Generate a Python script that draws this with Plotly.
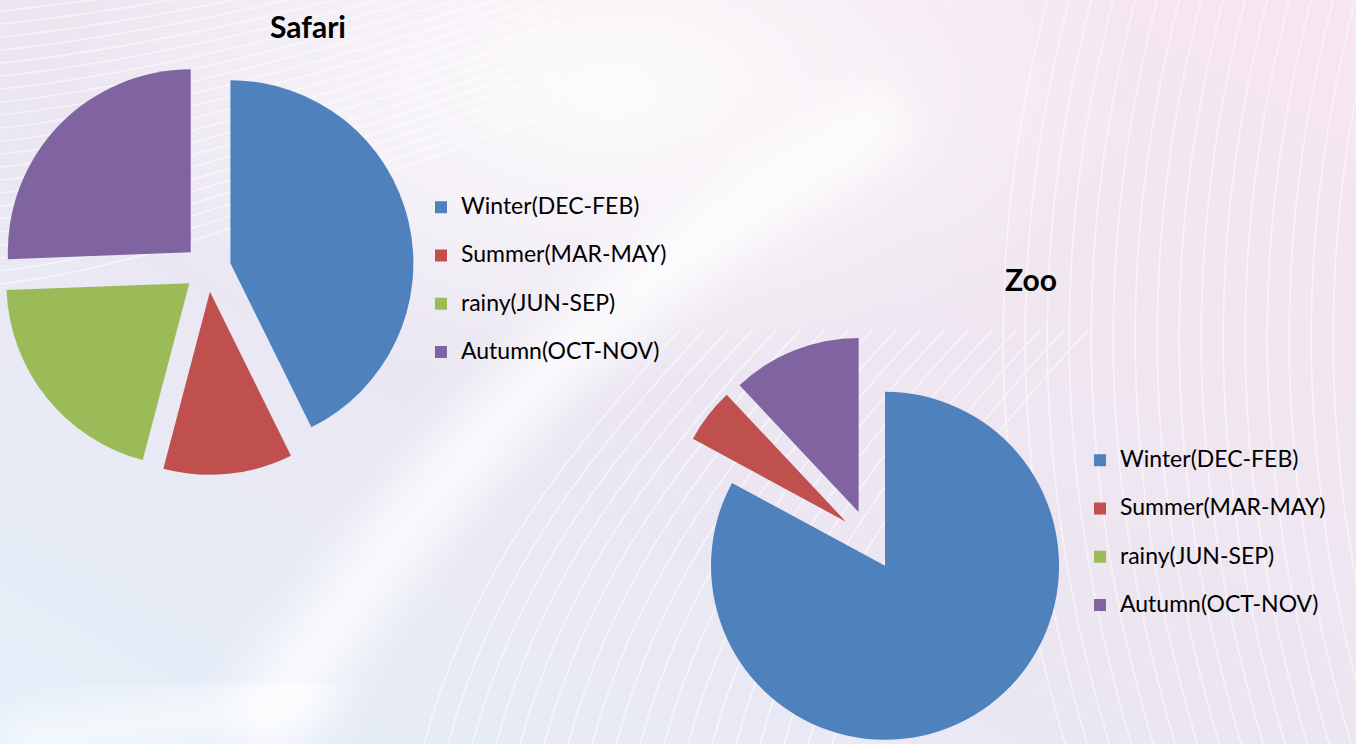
import base64
import plotly.graph_objects as go

# ---- data ----
seasons = ["Winter(DEC-FEB)", "Summer(MAR-MAY)", "rainy(JUN-SEP)", "Autumn(OCT-NOV)"]
safari_share = [42.7, 11.4, 20.3, 25.6]
zoo_share = [82.9, 5.1, 0.0, 12.0]
chart_titles = ["Safari", "Zoo"]

# ---- styles ----
colors = ["#4F81BD", "#C0504D", "#9BBB59", "#8064A2"]
FONT = "Lato"
W, H = 1356, 744


def legend_labels(style):
    # text shown at 23px; an empty second line gives the row spacing.
    # the style string differs per chart so each pie keeps its own legend entries
    return ["<span style='%s'>%s</span><br>\u00a0" % (style, s) for s in seasons]


# ---- decorative background (soft gradient + white wave lines) ----
waves = []
for i in range(22):
    y = 12 + 13 * i
    waves.append("<path d='M -10 %d C 150 %d, 320 %d, 560 %d' />" % (y, y - 15, y - 50 - 2 * i, y - 110 - 3 * i))
for i in range(16):
    x = 1050 + 22 * i
    waves.append("<path d='M %d -10 C %d 250, %d 500, %d 760' />" % (x, x - 70, x - 60, x + 20))
for i in range(18):
    x = 420 + 24 * i
    waves.append("<path d='M %d 760 C %d 600, %d 480, %d 330' />" % (x, x + 40, x + 120, x + 260))
waves_svg = "\n".join(waves)

bg_svg = """<svg xmlns='http://www.w3.org/2000/svg' width='1356' height='744' viewBox='0 0 1356 744' preserveAspectRatio='none'>
<defs>
<linearGradient id='g' x1='0' y1='1' x2='1' y2='0'>
<stop offset='0' stop-color='#e4eff9'/>
<stop offset='0.45' stop-color='#ebe6f2'/>
<stop offset='1' stop-color='#f7e6ef'/>
</linearGradient>
<radialGradient id='w' cx='0.45' cy='0.12' r='0.4'>
<stop offset='0' stop-color='#ffffff' stop-opacity='0.85'/>
<stop offset='1' stop-color='#ffffff' stop-opacity='0'/>
</radialGradient>
<filter id='b'><feGaussianBlur stdDeviation='22'/></filter>
</defs>
<rect width='1356' height='744' fill='url(#g)'/>
<rect width='1356' height='744' fill='url(#w)'/>
<path d='M 250 744 C 380 560, 520 330, 900 110' stroke='#ffffff' stroke-width='70' fill='none' opacity='0.75' filter='url(#b)'/>
<path d='M 0 744 C 120 725, 250 715, 330 690' stroke='#ffffff' stroke-width='40' fill='none' opacity='0.8' filter='url(#b)'/>
<g stroke='#ffffff' stroke-width='1.6' fill='none' opacity='0.55'>
%s
</g>
</svg>""" % waves_svg
bg_uri = "data:image/svg+xml;base64," + base64.b64encode(bg_svg.encode()).decode()

fig = go.Figure()

fig.add_trace(go.Pie(
    labels=legend_labels("font-size:23px"), values=safari_share, name=chart_titles[0],
    sort=False, direction="clockwise", rotation=0,
    marker=dict(colors=colors, line=dict(width=0)),
    pull=0.128, textinfo="none", hoverinfo="label+percent",
    domain=dict(x=[0.0009, 0.3053], y=[0.3434, 0.9348]),
    legend="legend",
))
fig.add_trace(go.Pie(
    labels=legend_labels("font-size:23px;"), values=zoo_share, name=chart_titles[1],
    sort=False, direction="clockwise", rotation=0,
    marker=dict(colors=colors, line=dict(width=0)),
    pull=0.1724, textinfo="none", hoverinfo="label+percent",
    domain=dict(x=[0.4828, 0.7999], y=[0.0, 0.5484]),
    legend="legend2",
))

legend_common = dict(
    font=dict(family=FONT, size=17.4, color="#000000"),
    bgcolor="rgba(0,0,0,0)", borderwidth=0, valign="top",
    xanchor="left", yanchor="top", orientation="v",
)
fig.update_layout(
    width=W, height=H,
    margin=dict(l=0, r=0, t=0, b=0),
    paper_bgcolor="#efeaf3",
    font=dict(family=FONT, color="#000000"),
    legend=dict(x=421 / W, y=1 - 189.5 / H, **legend_common),
    legend2=dict(x=1080 / W, y=1 - 442.5 / H, **legend_common),
    images=[dict(source=bg_uri, xref="paper", yref="paper", x=0, y=1,
                 sizex=1, sizey=1, sizing="stretch", layer="below",
                 xanchor="left", yanchor="top")],
    annotations=[
        dict(text="<b>%s</b>" % chart_titles[0], x=308 / W, y=1 - 26 / H,
             xref="paper", yref="paper", showarrow=False,
             xanchor="center", yanchor="middle",
             font=dict(family=FONT, size=30, color="#000000")),
        dict(text="<b>%s</b>" % chart_titles[1], x=1031 / W, y=1 - 279 / H,
             xref="paper", yref="paper", showarrow=False,
             xanchor="center", yanchor="middle",
             font=dict(family=FONT, size=30, color="#000000")),
    ],
)

fig.write_html(
    "out.html",
    config={"displayModeBar": False},
    post_script="document.body.style.margin='0';document.body.style.overflow='hidden';",
)
